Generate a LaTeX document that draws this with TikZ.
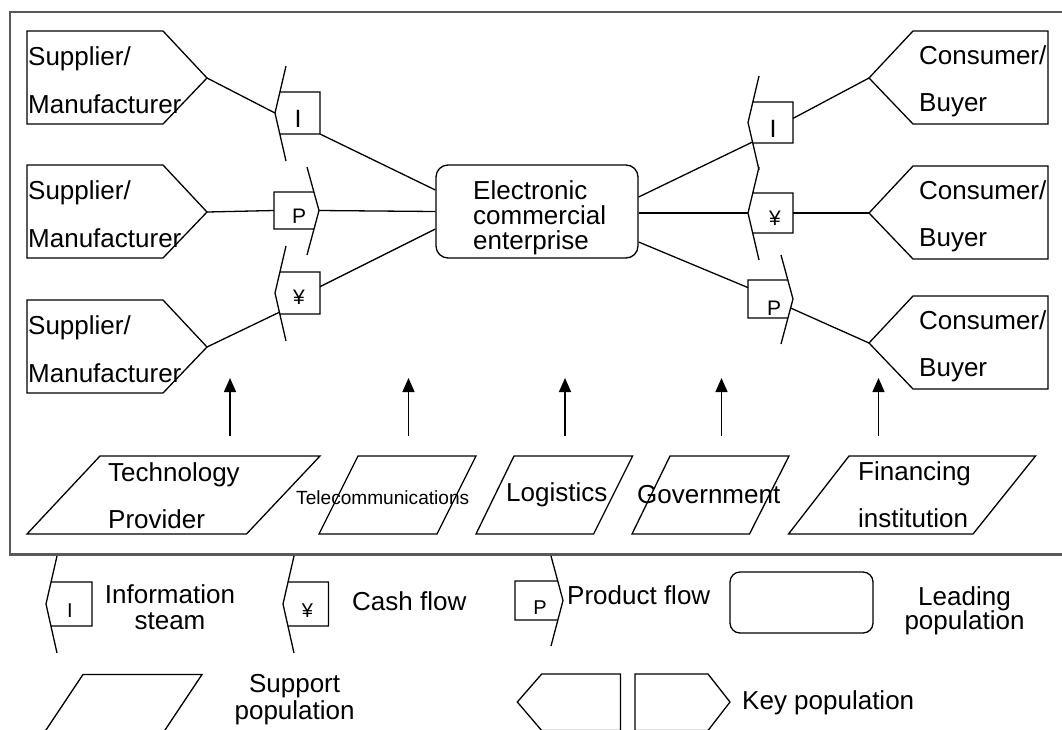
\documentclass[tikz,border=0pt]{standalone}
\usepackage{fontspec}
\setmainfont{Liberation Sans}
\usetikzlibrary{arrows.meta,calc}
\newcommand\fs[1]{\fontsize{#1}{#1}\selectfont}
% left-pointing block arrow: name, L, T, R, B
\newcommand\larr[5]{%
  \pgfmathsetmacro\arrtA{26/(26+(#5-#3)/2)}%
  \pgfmathsetmacro\arrtB{27/(27+(#5-#3)/2)}%
  \coordinate (#1bt) at (#2+1,#3-26); \coordinate (#1bb) at (#2+1,#5+27);
  \coordinate (#1tip) at (#2-10,{(#3+#5)/2});
  \coordinate (#1nw) at ($(#1bt)!\arrtA!(#1tip)$);
  \coordinate (#1sw) at ($(#1bb)!\arrtB!(#1tip)$);
  \coordinate (#1ne) at (#4,#3); \coordinate (#1se) at (#4,#5);
  \coordinate (#1e) at (#4,{(#3+#5)/2});
  \draw[shp] (#1bt) -- (#1tip) -- (#1bb);
  \draw[shp] (#1nw) -- (#1ne) -- (#1se) -- (#1sw);}
% right-pointing block arrow: name, L, T, R, B
\newcommand\rarr[5]{%
  \pgfmathsetmacro\arrtA{25/(25+(#5-#3)/2)}%
  \pgfmathsetmacro\arrtB{26/(26+(#5-#3)/2)}%
  \coordinate (#1bt) at (#4-1,#3-25); \coordinate (#1bb) at (#4-1,#5+26);
  \coordinate (#1tip) at (#4+11,{(#3+#5)/2});
  \coordinate (#1ne) at ($(#1bt)!\arrtA!(#1tip)$);
  \coordinate (#1se) at ($(#1bb)!\arrtB!(#1tip)$);
  \coordinate (#1nw) at (#2,#3); \coordinate (#1sw) at (#2,#5);
  \coordinate (#1w) at (#2,{(#3+#5)/2});
  \draw[shp] (#1bt) -- (#1tip) -- (#1bb);
  \draw[shp] (#1ne) -- (#1nw) -- (#1sw) -- (#1se);}
% supplier pentagon: name, top y
\newcommand\supplier[2]{%
  \draw[shp] (27,#2) -- (163,#2) -- (207,#2+47) -- (163,#2+93) -- (27,#2+93) -- cycle;
  \coordinate (#1) at (207,#2+47);
  \node[lbl] (#1a) at (28,#2+34) {Supplier/};
  \node[lbl] (#1b) at (28,#2+82) {Manufacturer};}
% consumer pentagon: name, top y
\newcommand\consumer[2]{%
  \draw[shp] (869,#2+47) -- (913,#2) -- (1048,#2) -- (1048,#2+93) -- (913,#2+93) -- cycle;
  \coordinate (#1) at (869,#2+47);
  \node[lbl] (#1a) at (919,#2+33) {Consumer/};
  \node[lbl] (#1b) at (919,#2+80) {Buyer};}
\tikzset{
  shp/.style={draw=black, line width=1.3pt, line join=miter},
  conn/.style={draw=black, line width=1.3pt},
  frm/.style={draw=black!65, line width=2.6pt},
  lbl/.style={inner sep=0pt, anchor=base west, font=\fs{26}},
  clbl/.style={inner sep=0pt, anchor=base, font=\fs{26}},
  sym/.style={inner sep=0pt, anchor=base, font=\fs{21}},
  upar/.style={draw=black, line width=1.5pt, -{Triangle[width=12pt,length=14pt]}},
}
\begin{document}
\begin{tikzpicture}[x=1pt,y=-1pt]
\clip (0,0) rectangle (1062,729);
\fill[white] (0,0) rectangle (1062,729);
% frame
\draw[frm] (1075,12) -- (10,12) -- (10,554.5) -- (1075,554.5);

% key populations
\supplier{s1}{31}
\supplier{s2}{165}
\supplier{s3}{300}
\consumer{c1}{31}
\consumer{c2}{166}
\consumer{c3}{296}

% leading population
\node[shp, rounded corners=12pt, minimum width=202pt, minimum height=93pt, inner sep=0pt] (ece) at (537,211.5) {};
\node[lbl] (ece1) at (473,199) {Electronic};
\node[lbl] (ece2) at (473,224) {commercial};
\node[lbl] (ece3) at (473,249) {enterprise};

% flow arrows
\larr{a1}{285}{92}{320}{134}
\rarr{a2}{274}{192}{308}{229}
\larr{a3}{285}{272}{320}{314}
\larr{b1}{758}{102}{793}{143}
\larr{b2}{758}{193}{793}{233}
\rarr{b3}{748}{280}{782}{318}
\node[sym, font=\fs{25}] (a1l) at (298,127.5) {I};
\node[sym] (a2l) at (299,223) {P};
\node[sym] (a3l) at (299,304) {¥};
\node[sym, font=\fs{25}] (b1l) at (773,137.5) {I};
\node[sym] (b2l) at (775,225) {¥};
\node[sym] (b3l) at (774,315) {P};

% connectors
\draw[conn] (s1) -- (a1tip);
\draw[conn] (a1se) -- ([yshift=21.5pt]ece.west);
\draw[conn] (s2) -- (a2w);
\draw[conn] (a2tip) -- (ece.west);
\draw[conn] (s3) -- ($(a3tip)!0.4!(a3bb)$);
\draw[conn] ($(a3ne)!0.35!(a3se)$) -- ([yshift=-17.5pt]ece.west);
\draw[conn] ([yshift=14.5pt]ece.east) -- ($(b1tip)!0.41!(b1bb)$);
\draw[conn] ($(b1ne)!0.4!(b1se)$) -- (c1);
\draw[conn] ([yshift=-1.5pt]ece.east) -- (b2tip);
\draw[conn] (b2e) -- (c2);
\draw[conn] ([yshift=-30.5pt]ece.east) -- ($(b3nw)!0.2!(b3sw)$);
\draw[conn] ($(b3tip)!0.2!(b3bb)$) -- (c3);

% support populations
\draw[shp] (27,534) -- (100,456) -- (320,456) -- (246.5,534) -- cycle;
\draw[shp] (319,534) -- (358,456) -- (476,456) -- (437,534) -- cycle;
\draw[shp] (476,534) -- (514,456) -- (632.6,456) -- (593.6,534) -- cycle;
\draw[shp] (632,534) -- (670,456) -- (789,456) -- (749.5,534) -- cycle;
\draw[shp] (788.5,534) -- (849,456) -- (1035.5,456) -- (973,534) -- cycle;
\node[lbl] (tp1) at (108,481.3) {Technology};
\node[lbl] (tp2) at (108,528.7) {Provider};
\node[lbl, font=\fs{19.1}] (tel) at (296,504) {Telecommunications};
\node[lbl] (log) at (506,501.6) {Logistics};
\node[lbl] (gov) at (637,503) {Government};
\node[lbl] (fi1) at (858,480.3) {Financing};
\node[lbl] (fi2) at (858,527) {institution};

% support arrows
\foreach \n/\x in {1/230,2/408.5,3/565,4/721.5,5/878.5}{
  \coordinate (v\n a) at (\x,435.5);
  \coordinate (v\n b) at (\x,378);
  \draw[upar] (v\n a) -- (v\n b);
}

% legend
\larr{l1}{56}{582}{92}{626}
\node[sym, font=\fs{20}] (l1l) at (70,617.6) {I};
\node[clbl] (l1t1) at (170,603.3) {Information};
\node[clbl] (l1t2) at (170,629.4) {steam};

\larr{l2}{293}{582}{328.5}{626}
\node[sym, font=\fs{20}] (l2l) at (307.5,617.6) {¥};
\node[lbl] (l2t) at (352,610.8) {Cash flow};

\rarr{l3}{515}{581}{552}{620}
\node[sym, font=\fs{20}] (l3l) at (540,614) {P};
\node[lbl] (l3t) at (567,604) {Product flow};

\node[shp, rounded corners=10pt, minimum width=143pt, minimum height=61pt, inner sep=0pt] (lead) at (801.5,602.5) {};
\node[clbl] (lead1) at (964.5,605.7) {Leading};
\node[clbl] (lead2) at (964.5,629.4) {population};

\draw[shp] (26,760) -- (83,674.5) -- (202,674.5) -- (145,760);
\node[clbl] (sup1) at (294.6,692.7) {Support};
\node[clbl] (sup2) at (294.6,719.2) {population};

\draw[shp] (620.5,674) -- (541.7,674) -- (517.3,702) -- (541.7,730.5) -- (620.5,730.5) -- cycle;
\draw[shp] (635,674) -- (708,674) -- (730,702) -- (708,730.5) -- (635,730.5) -- cycle;
\node[lbl] (key) at (742,709) {Key population};
\end{tikzpicture}
\end{document}
